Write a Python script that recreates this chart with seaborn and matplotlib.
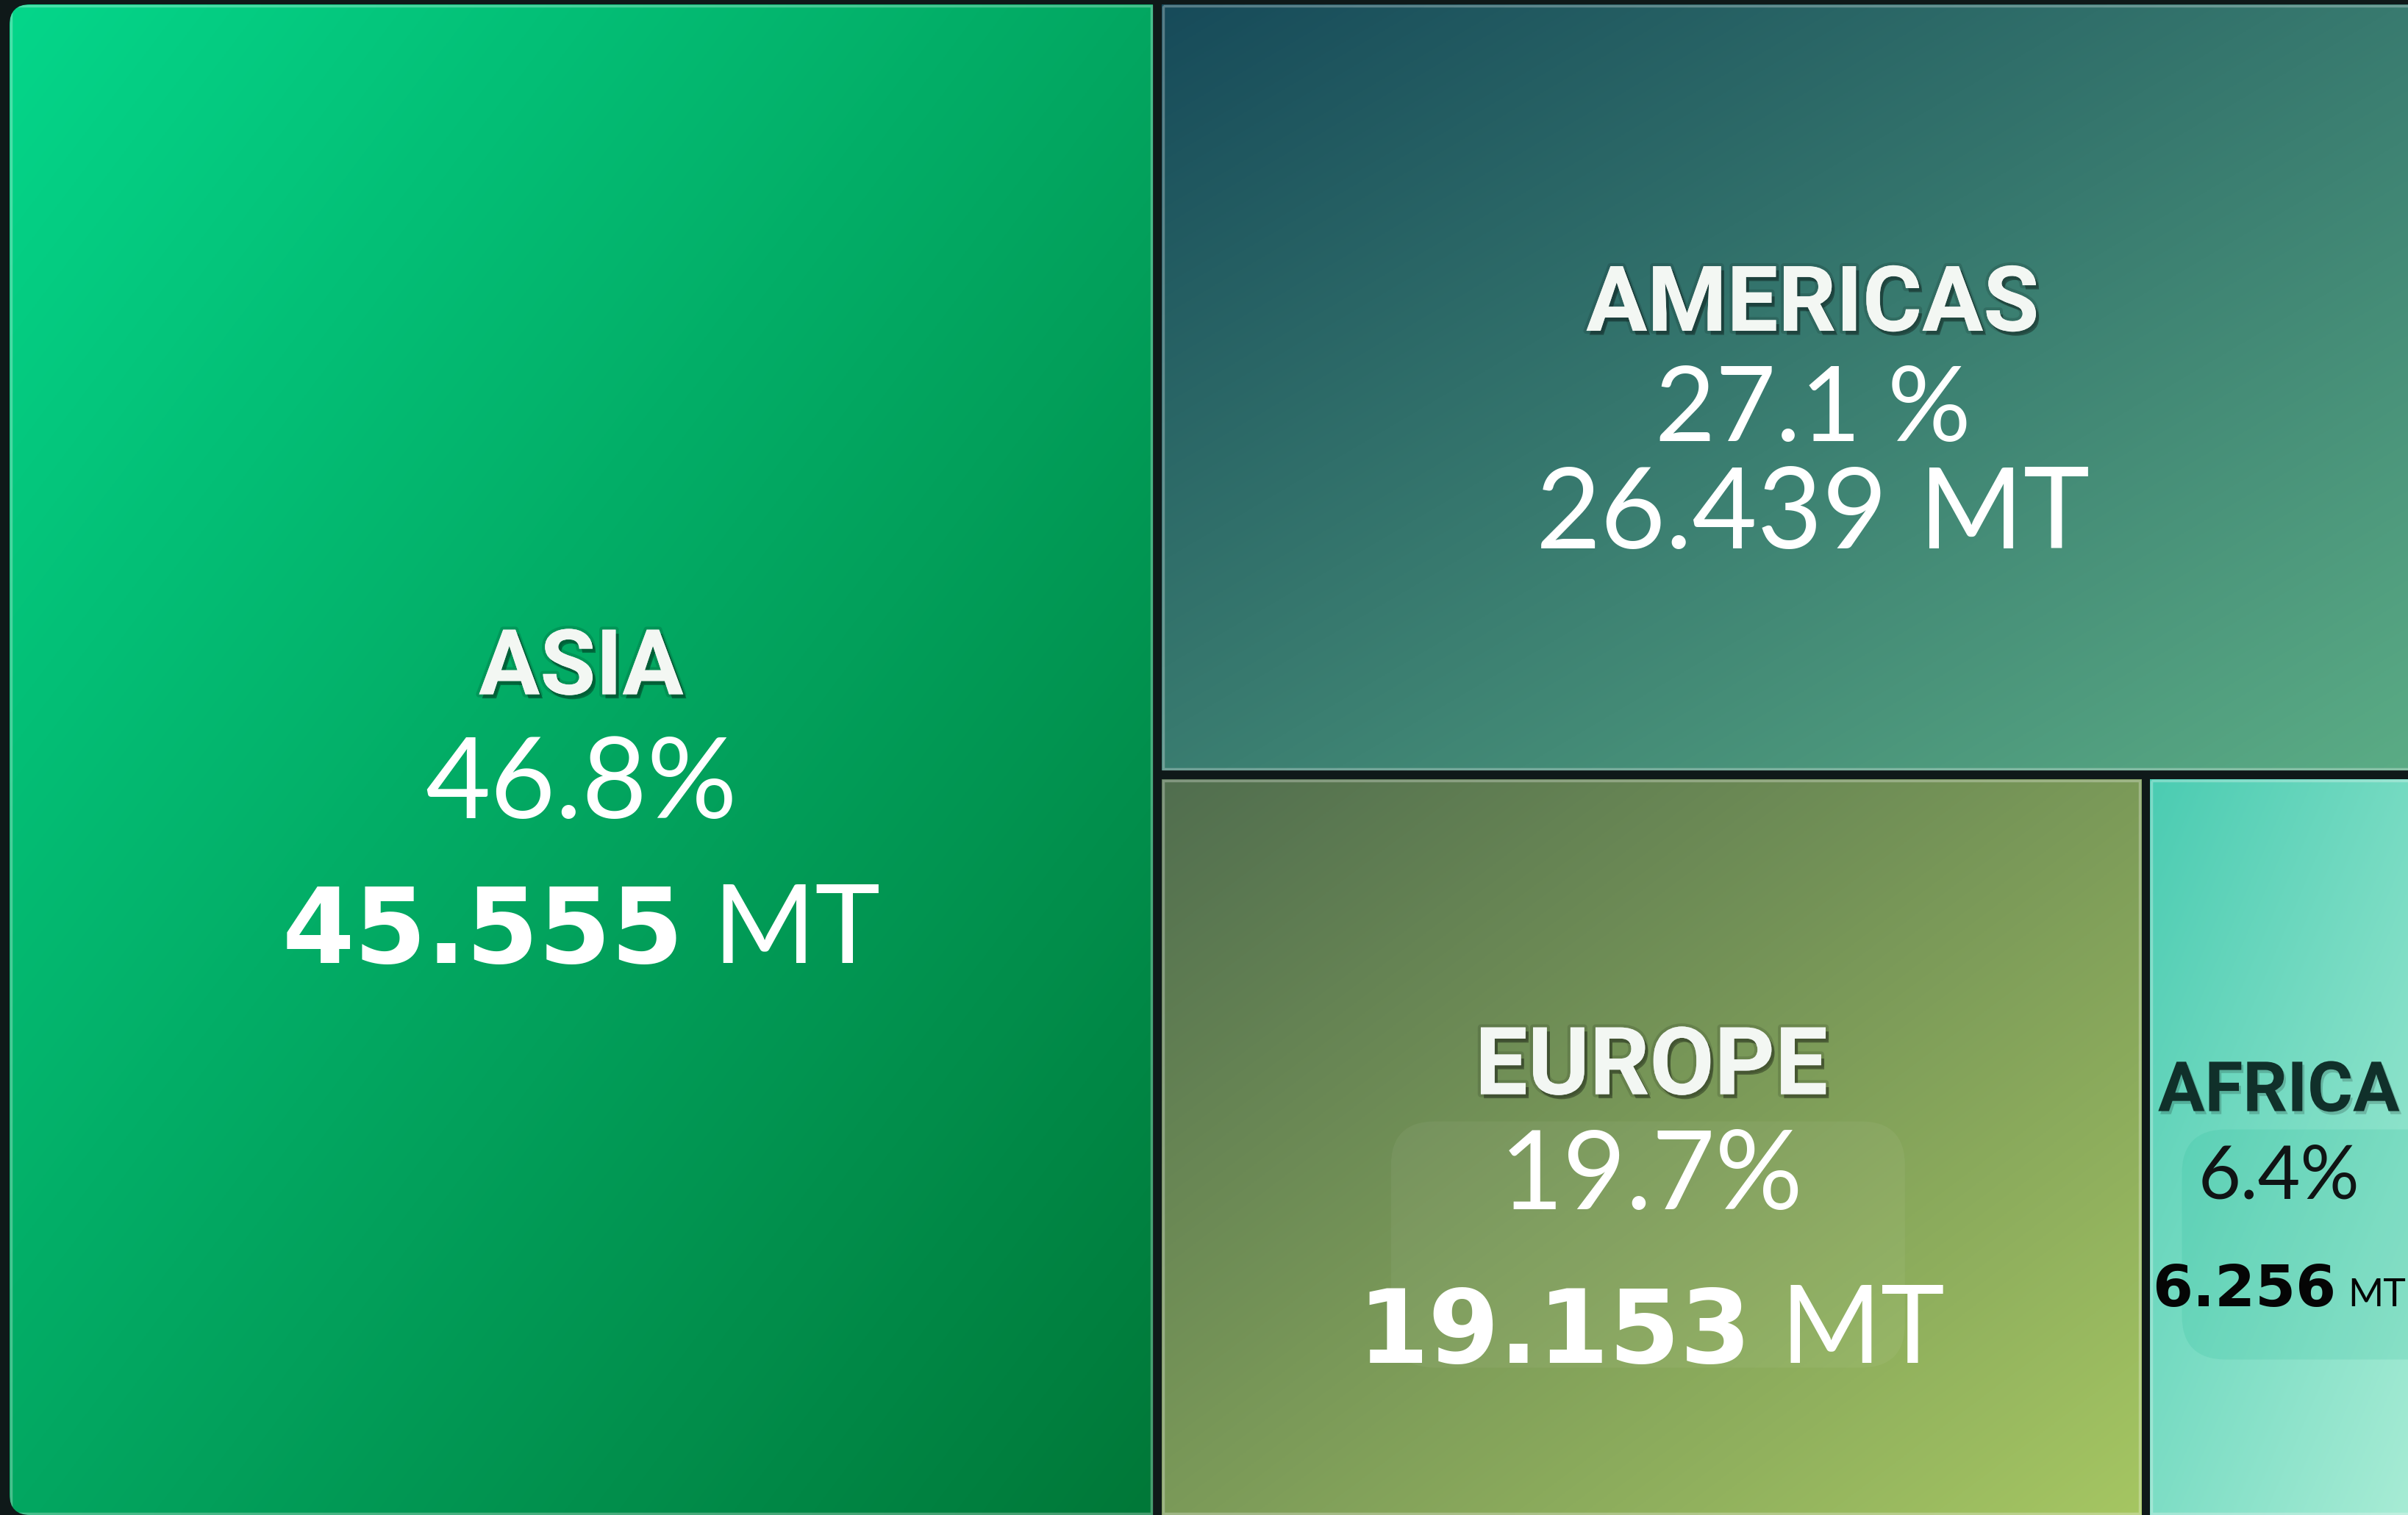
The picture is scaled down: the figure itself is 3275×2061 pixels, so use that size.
import numpy as np
import pandas as pd
import matplotlib
matplotlib.use("Agg")
import matplotlib.pyplot as plt
import matplotlib.patheffects as pe
from matplotlib.patches import FancyBboxPatch, Rectangle
import seaborn as sns

# ---------------- data ----------------
regions = ["ASIA", "AMERICAS", "EUROPE", "AFRICA"]
tonnes = [45.555, 26.439, 19.153, 6.256]
shares = [46.8, 27.1, 19.7, 6.4]
share_labels = ["46.8%", "27.1 %", "19.7%", "6.4%"]
tonne_labels = ["45.555", "26.439", "19.153", "6.256"]
unit_label = "MT"

df = pd.DataFrame({"region": regions, "tonnes": tonnes, "share": shares,
                   "share_label": share_labels, "tonne_label": tonne_labels})

# ---------------- style ----------------
sns.set_theme(style="white")
plt.rcParams["font.family"] = ["Lato", "DejaVu Sans"]
BG = "#0f1919"
grad_from = {"ASIA": "#05d68a", "AMERICAS": "#174b5a", "EUROPE": "#516e4f", "AFRICA": "#4bccb2"}
grad_to = {"ASIA": "#007838", "AMERICAS": "#5cae86", "EUROPE": "#a5c662", "AFRICA": "#b0efd8"}
dark = {"ASIA": False, "AMERICAS": False, "EUROPE": False, "AFRICA": True}
bold_value = {"ASIA": True, "AMERICAS": False, "EUROPE": True, "AFRICA": True}
label_size = {"ASIA": 89, "AMERICAS": 89, "EUROPE": 92, "AFRICA": 68}
share_size = {"ASIA": 110, "AMERICAS": 102, "EUROPE": 107, "AFRICA": 72}
value_size = {"ASIA": 102, "AMERICAS": 110, "EUROPE": 100, "AFRICA": 57}
unit_scale = {"ASIA": 1.0, "AMERICAS": 1.0, "EUROPE": 1.0, "AFRICA": 0.62}
sep_scale = {"ASIA": 0.28, "AMERICAS": 0.28, "EUROPE": 0.28, "AFRICA": 0.2}
# baseline offsets (px) from tile centre for label / share / value lines
line_off = {"ASIA": (-89, 80, 277), "AMERICAS": (-77, 73, 219),
            "EUROPE": (-72, 84, 293), "AFRICA": (-49, 70, 216)}
text_dx = {"ASIA": 0, "AMERICAS": 0, "EUROPE": 0, "AFRICA": -38}
# faint rounded panel behind share/value (relative to tile centre): x0, x1, y0, y1, colour, alpha
panel = {"EUROPE": (-354, 345, -35, 300, "#ffffff", 0.05),
         "AFRICA": (-170, 200, -24, 289, "#1fb894", 0.16)}

W_PX, H_PX = 3275, 2061
CANVAS_W, CANVAS_H = 3350, 2067
X_SHIFT = 7
GAP = 12
RADIUS = 28


def worst(row, w):
    s = sum(row)
    return max(max(w * w * r / (s * s), s * s / (w * w * r)) for r in row)


def squarify(vals, x, y, dx, dy):
    rects = []
    vals = list(vals)
    while vals:
        w = min(dx, dy)
        row = [vals[0]]
        i = 1
        while i < len(vals) and worst(row + [vals[i]], w) <= worst(row, w):
            row.append(vals[i])
            i += 1
        vals = vals[i:]
        s = sum(row)
        if dx >= dy:
            cw = s / dy
            yy = y
            for r in row:
                h = r / cw
                rects.append((x, yy, cw, h))
                yy += h
            x += cw
            dx -= cw
        else:
            rh = s / dx
            xx = x
            for r in row:
                ww = r / rh
                rects.append((xx, y, ww, rh))
                xx += ww
            y += rh
            dy -= rh
    return rects


areas = df["tonnes"] / df["tonnes"].sum() * CANVAS_W * CANVAS_H
rects = squarify(areas.tolist(), 0, 0, CANVAS_W, CANVAS_H)

fig = plt.figure(figsize=(W_PX / 100, H_PX / 100), dpi=100, facecolor=BG)
ax = fig.add_axes([0, 0, 1, 1])
ax.set_facecolor(BG)
ax.axis("off")

container = FancyBboxPatch((GAP / 2, GAP / 2), CANVAS_W - GAP, CANVAS_H - GAP,
                           boxstyle=f"round,pad=0,rounding_size={RADIUS}",
                           fill=False, edgecolor="none", zorder=0)
ax.add_patch(container)

n = 300
U, V = np.meshgrid(np.linspace(0, 1, n), np.linspace(0, 1, n))
T = (U + V) / 2

renderer = fig.canvas.get_renderer()
NUM_FONT = ["DejaVu Sans"]
LIGHT_FONT = ["Lato", "DejaVu Sans"]

for (x, y, w, h), row in zip(rects, df.itertuples()):
    reg = row.region
    tx, ty, tw, th = x + GAP / 2, y + GAP / 2, w - GAP, h - GAP
    cmap = sns.blend_palette([grad_from[reg], grad_to[reg]], as_cmap=True)
    im = ax.imshow(T, cmap=cmap, vmin=0, vmax=1, extent=(tx, tx + tw, ty + th, ty),
                   origin="upper", interpolation="bilinear", aspect="auto", zorder=1)
    im.set_clip_path(container)
    tile_clip = Rectangle((tx, ty), tw, th, fill=False, edgecolor="none")
    ax.add_patch(tile_clip)
    border = Rectangle((tx + 2, ty + 2), tw - 4, th - 4, fill=False,
                       edgecolor=(1, 1, 1, 0.28), lw=2.5, zorder=2)
    ax.add_patch(border)
    border.set_clip_path(container)

    cx = tx + tw / 2 + text_dx[reg]
    cy = ty + th / 2
    if reg in panel:
        px0, px1, py0, py1, pc, pa = panel[reg]
        pnl = FancyBboxPatch((tx + tw / 2 + px0, cy + py0), px1 - px0, py1 - py0,
                             boxstyle="round,pad=0,rounding_size=60",
                             facecolor=pc, alpha=pa, edgecolor="none", zorder=3)
        ax.add_patch(pnl)
        pnl.set_clip_path(tile_clip)

    o1, o2, o3 = line_off[reg]
    if dark[reg]:
        lab_col, txt_col, val_col = "#10302a", "#101414", "#050505"
        lab_fx = [pe.SimplePatchShadow(offset=(2, -3), shadow_rgbFace="#000000", alpha=0.18),
                  pe.Normal()]
    else:
        lab_col, txt_col, val_col = "#f3f7f3", "#ffffff", "#ffffff"
        lab_fx = [pe.SimplePatchShadow(offset=(3, -4), shadow_rgbFace="#000000", alpha=0.35),
                  pe.Stroke(linewidth=6, foreground=(0, 0, 0, 0.12)),
                  pe.Normal()]

    t = ax.text(cx, cy + o1, reg, ha="center", va="baseline", family=["Roboto", "DejaVu Sans"],
                fontweight="bold", fontsize=label_size[reg], color=lab_col, zorder=5)
    t.set_path_effects(lab_fx)

    ax.text(cx, cy + o2, row.share_label, ha="center", va="baseline",
            family=LIGHT_FONT, fontweight="normal",
            fontsize=share_size[reg], color=txt_col, zorder=5)

    if bold_value[reg]:
        num = ax.text(0, cy + o3, row.tonne_label, ha="left", va="baseline",
                      family=NUM_FONT, fontweight="bold",
                      fontsize=value_size[reg], color=val_col, zorder=5)
        unit_size = value_size[reg] * 1.06 * unit_scale[reg]
    else:
        num = ax.text(0, cy + o3, row.tonne_label, ha="left", va="baseline",
                      family=LIGHT_FONT, fontweight="normal",
                      fontsize=value_size[reg], color=val_col, zorder=5)
        unit_size = value_size[reg] * unit_scale[reg]
    un = ax.text(0, cy + o3, unit_label, ha="left", va="baseline",
                 family=LIGHT_FONT, fontweight="normal",
                 fontsize=unit_size, color=val_col, zorder=5)
    w1 = num.get_window_extent(renderer=renderer).width
    w2 = un.get_window_extent(renderer=renderer).width
    sep = value_size[reg] * 100 / 72 * sep_scale[reg]
    left = cx - (w1 + sep + w2) / 2
    num.set_x(left)
    un.set_x(left + w1 + sep)

ax.set_xlim(-X_SHIFT, W_PX - X_SHIFT)
ax.set_ylim(H_PX, 0)

fig.savefig("out.png", dpi=100, facecolor=BG)
